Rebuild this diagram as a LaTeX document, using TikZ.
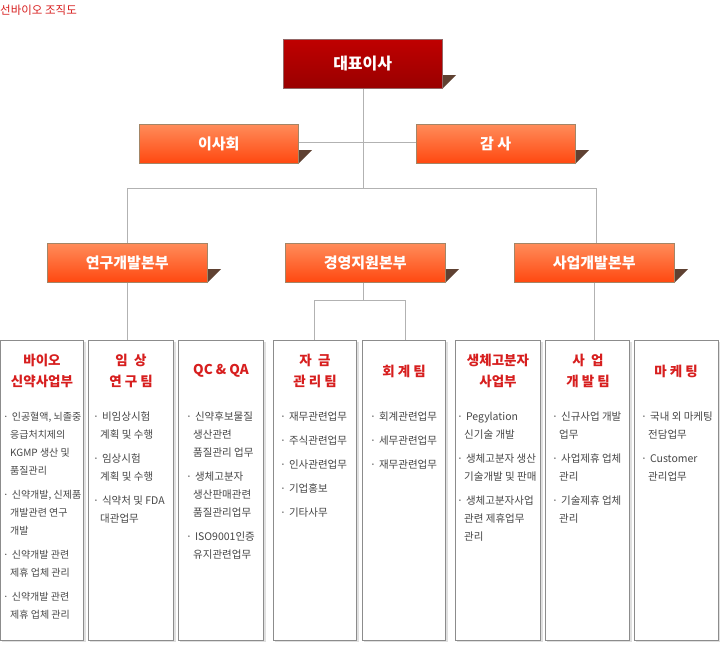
\documentclass[tikz,border=0pt]{standalone}
\usepackage{fontspec}
\setmainfont{Noto Sans CJK KR}
\begin{document}
\begin{tikzpicture}[x=1pt,y=-1pt,
  line/.style={draw=black!30,line width=0.8pt},
  topbox/.style={draw=red!30!black!60,top color=red!75!black,bottom color=red!60!black,text=white,font=\fontsize{16}{18}\selectfont\bfseries},
  orbox/.style={draw=orange!40!black!60,top color={rgb,255:red,255;green,140;blue,90},bottom color={rgb,255:red,255;green,72;blue,16},text=white,font=\fontsize{15}{18}\selectfont\bfseries},
  fold/.style={fill={rgb,255:red,95;green,65;blue,50}},
  team/.style={draw=black!45,fill=white,line width=0.8pt},
  ttl/.style={text={rgb,255:red,215;green,30;blue,30},font=\fontsize{13.5}{21}\selectfont\bfseries,align=center,anchor=center},
  itm/.style={text=black!72,font=\fontsize{10.5}{18}\selectfont,align=left,anchor=north west,inner sep=0pt}]
\useasboundingbox (0,0) rectangle (720,662);
\node[anchor=west,text={rgb,255:red,215;green,30;blue,30},font=\fontsize{11.5}{13}\selectfont,inner sep=0pt] (title) at (0,10) {선바이오 조직도};
% connectors
\coordinate (j1) at (363,188);
\coordinate (jl) at (127,188);
\coordinate (jr) at (596,188);
\coordinate (j2) at (314,300);
\coordinate (j3) at (405,300);
\draw[line] (363,88) -- (j1);
\draw[line] (298,142) -- (416,142);
\draw[line] (jl) -- (jr);
\draw[line] (jl) -- (127,243);
\draw[line] (jr) -- (jr |- 0,243);
\draw[line] (363,282) -- (363,300);
\draw[line] (j2) -- (j3);
\draw[line] (127,282) -- (127,340);
\draw[line] (j2) -- (314,340);
\draw[line] (j3) -- (405,340);
\draw[line] (594,282) -- (594,340);
% top
\fill[fold] (442,75) -- (456,75) -- (442,89) -- cycle;
\node[topbox,minimum width=159,minimum height=49,anchor=north west,inner sep=0pt] (ceo) at (283,39) {};
\node[text=white,font=\fontsize{16}{18}\selectfont\bfseries] at (ceo) {대표이사};
\fill[fold] (298,150) -- (312,150) -- (298,164) -- cycle;
\fill[fold] (575,150) -- (589,150) -- (575,164) -- cycle;
\node[orbox,minimum width=159,minimum height=39,anchor=north west,inner sep=0pt] (bd) at (139,124) {이사회};
\node[orbox,minimum width=159,minimum height=39,anchor=north west,inner sep=0pt] (au) at (416,124) {감 사};
\foreach \x/\n/\t in {47/rd/연구개발본부,285/ms/경영지원본부,514/bd2/사업개발본부}{
  \fill[fold] (\x+160,269) -- (\x+174,269) -- (\x+160,283) -- cycle;
  \node[orbox,minimum width=160,minimum height=39,anchor=north west,inner sep=0pt] (\n) at (\x,243) {\t};
}
% teams
\foreach \a/\b in {0/84,88/174,178/264,273/357,362/446,455/541,545/630,634/719}{
  \fill[black!12] (\a+2,342) rectangle (\b+2,642);
  \draw[team] (\a+0.5,340) rectangle (\b-0.5,640);
}
\node[ttl] (t1) at (42,371) {바이오\\신약사업부};
\node[ttl] (t2) at (131,371) {임 \ 상\\연 구 팀};
\node[ttl] (t3) at (221,371) {QC \& QA};
\node[ttl] (t4) at (315,371) {자 \ 금\\관 리 팀};
\node[ttl] (t5) at (404,371) {회 계 팀};
\node[ttl] (t6) at (498,371) {생체고분자\\사업부};
\node[ttl] (t7) at (588,371) {사 \ 업\\개 발 팀};
\node[ttl] (t8) at (676,371) {마 케 팅};
\def\bl{·\hspace{3pt}}\def\in{\hspace{7pt}}
\node[itm,font=\fontsize{10}{18}\selectfont] (i1) at (3,412) {\bl 인공혈액, 뇌졸중\\\in 응급처치제의\\\in KGMP 생산 및\\\in 품질관리\\[6pt]\bl 신약개발, 신제품\\\in 개발관련 연구\\\in 개발\\[6pt]\bl 신약개발 관련\\\in 제휴 업체 관리\\[6pt]\bl 신약개발 관련\\\in 제휴 업체 관리};
\node[itm] (i2) at (93,412) {\bl 비임상시험\\\in 계획 및 수행\\[6pt]\bl 임상시험\\\in 계획 및 수행\\[6pt]\bl 식약처 및 FDA\\\in 대관업무};
\node[itm] (i3) at (186,412) {\bl 신약후보물질\\\in 생산관련\\\in 품질관리 업무\\[6pt]\bl 생체고분자\\\in 생산판매관련\\\in 품질관리업무\\[6pt]\bl ISO9001인증\\\in 유지관련업무};
\node[itm] (i4) at (280,412) {\bl 재무관련업무\\[6pt]\bl 주식관련업무\\[6pt]\bl 인사관련업무\\[6pt]\bl 기업홍보\\[6pt]\bl 기타사무};
\node[itm] (i5) at (370,412) {\bl 회계관련업무\\[6pt]\bl 세무관련업무\\[6pt]\bl 재무관련업무};
\node[itm] (i6) at (457,412) {\bl Pegylation\\\in 신기술 개발\\[6pt]\bl 생체고분자 생산\\\in 기술개발 및 판매\\[6pt]\bl 생체고분자사업\\\in 관련 제휴업무\\\in 관리};
\node[itm] (i7) at (552,412) {\bl 신규사업 개발\\\in 업무\\[6pt]\bl 사업제휴 업체\\\in 관리\\[6pt]\bl 기술제휴 업체\\\in 관리};
\node[itm] (i8) at (641,412) {\bl 국내 외 마케팅\\\in 전담업무\\[6pt]\bl Customer\\\in 관리업무};
\end{tikzpicture}
\end{document}
